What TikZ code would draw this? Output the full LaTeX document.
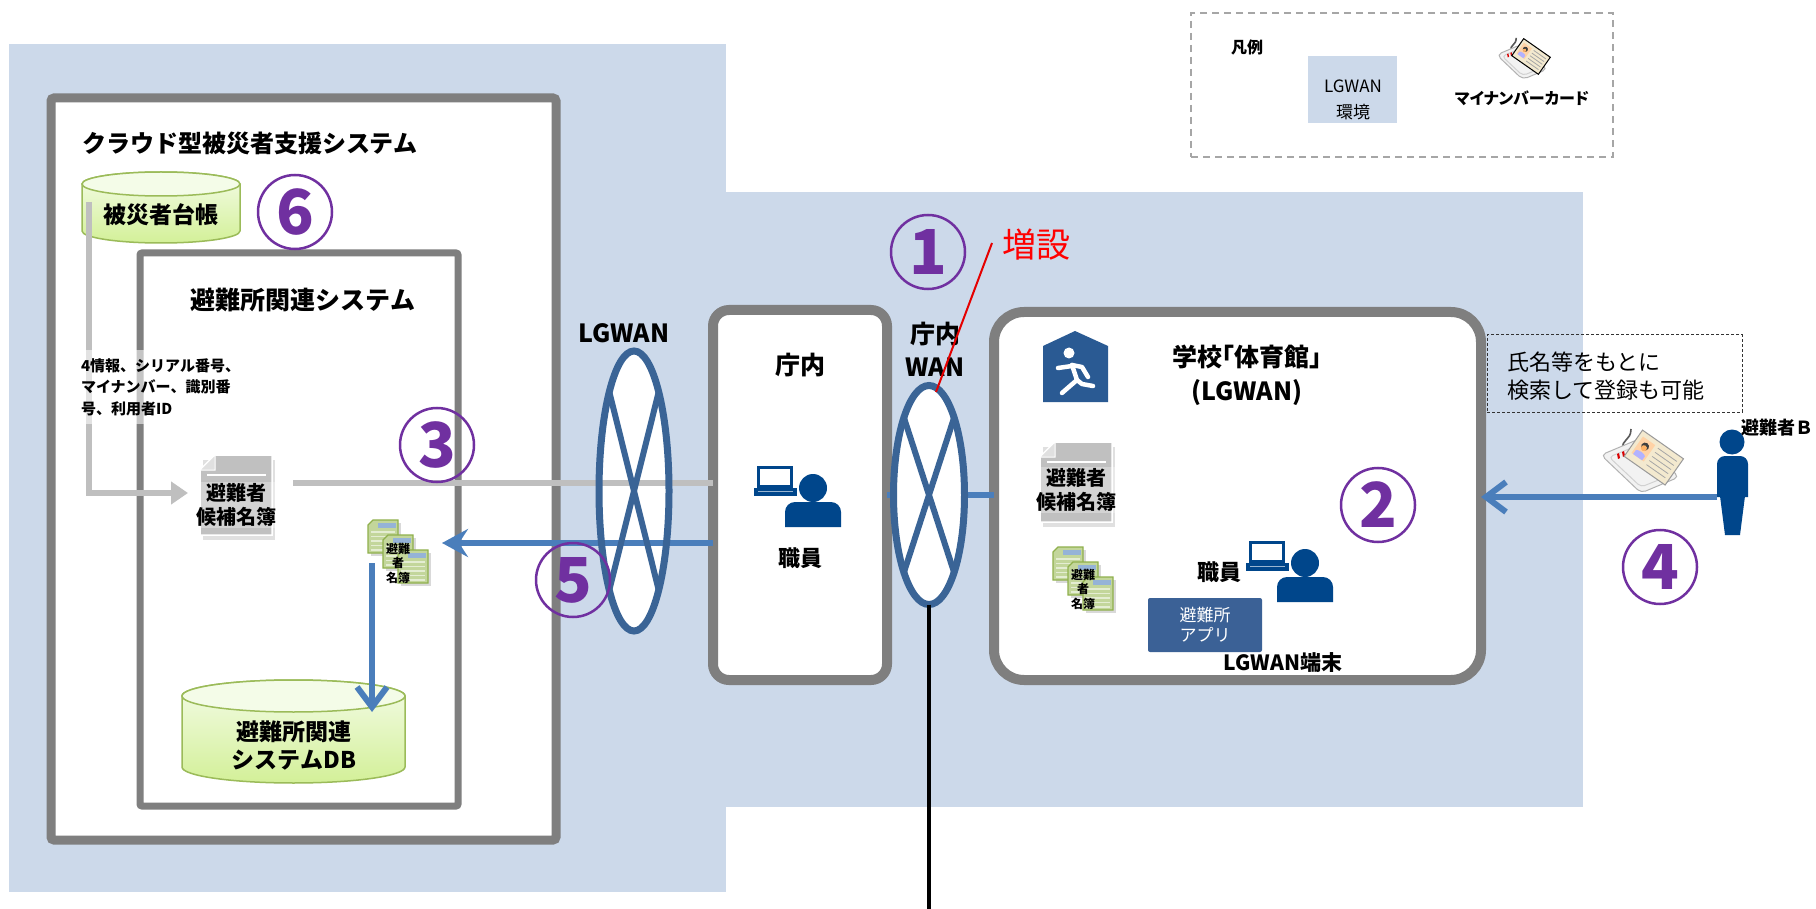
\documentclass[tikz,border=0pt]{standalone}
\usepackage{fontspec}
\setmainfont{Noto Sans CJK JP}
\usetikzlibrary{calc,arrows.meta,shapes.geometric}

\definecolor{lgwanbg}{HTML}{CCD9EA}
\definecolor{boxgray}{HTML}{7F7F7F}
\definecolor{numc}{HTML}{7030A0}
\definecolor{flowblue}{HTML}{4A7EBB}
\definecolor{netblue}{HTML}{3A6496}
\definecolor{iconblue}{HTML}{00468B}
\definecolor{linegray}{HTML}{BFBFBF}
\definecolor{dbedge}{HTML}{9BBB59}
\definecolor{dbtop}{HTML}{F4FCE8}
\definecolor{dbbot}{HTML}{D3F098}
\definecolor{appblue}{HTML}{3B6196}
\definecolor{housblue}{HTML}{2A5A93}
\definecolor{sheetgray}{HTML}{C0C0C0}
\definecolor{rostergreen}{HTML}{C3D69B}
\definecolor{rosteredge}{HTML}{8FB04C}
\definecolor{rosterblue}{HTML}{95B3D7}
\definecolor{cardbeige}{HTML}{F3E9CF}
\definecolor{addred}{HTML}{FF0000}

\newcommand\fsz[2]{\fontsize{#1}{#2}\selectfont}

% database cylinder: x left, x right, y of top ellipse centre, y of bottom ellipse centre, ellipse half height
\newcommand\dbcylinder[5]{%
  \pgfmathsetmacro\cylrx{(#2-#1)/2}%
  \pgfmathsetmacro\cylcx{(#2+#1)/2}%
  \path[top color=dbtop,bottom color=dbbot,draw=dbedge,line width=1.5pt]
    (#1,#3) -- (#1,#4) arc[start angle=180,end angle=0,x radius=\cylrx,y radius=#5]
    -- (#2,#3) arc[start angle=0,end angle=-180,x radius=\cylrx,y radius=#5] -- cycle;
  \path[fill=dbtop,draw=dbedge,line width=1.5pt] (\cylcx,#3) ellipse[x radius=\cylrx,y radius=#5];
}

% grey list sheet with a folded corner; top left corner
\newcommand\sheet[2]{%
  \begin{scope}[shift={(#1,#2)}]
    \fill[black,opacity=.12] (3,5) -- (75,5) -- (75,85) -- (3,85) -- cycle;
    \path[fill=sheetgray,draw=white,line width=1.5pt] (15,0) -- (72,0) -- (72,80) -- (0,80) -- (0,15) -- cycle;
    \path[fill=black!12,draw=white,line width=1pt] (0,15) -- (15,15) -- (15,0) -- cycle;
    \draw[white,line width=1.5pt] (7,20) -- (66,20);
  \end{scope}}

% one green roster page; top left corner
\newcommand\rosterpage[2]{%
  \begin{scope}[shift={(#1,#2)}]
    \fill[black,opacity=.15] (3,3) rectangle (33,36);
    \path[fill=rostergreen,draw=rosteredge,line width=1.2pt] (5,0) -- (30,0) -- (30,33) -- (0,33) -- (0,5) -- cycle;
    \fill[rosterblue] (10,2.5) rectangle (28,8);
    \foreach \yy in {12,16.5,21,25.5,30} \draw[white!55!rostergreen,line width=1.2pt] (3,\yy) -- (27,\yy);
  \end{scope}}
\newcommand\rosterstack[2]{%
  \rosterpage{#1}{#2}\rosterpage{#1+15}{#2+15}\rosterpage{#1+30}{#2+30}}

% laptop user; centre of the head
\newcommand\staffer[2]{%
  \begin{scope}[shift={(#1,#2)}]
    \draw[iconblue,line width=3pt,fill=white] (-54.5,-20.5) rectangle (-21.5,-1.5);
    \fill[iconblue] (-59,0) rectangle (-16,8);
    \draw[white!60!iconblue,line width=1pt] (-55,3.5) -- (-20,3.5);
    \fill[iconblue] (0,0) circle (14);
    \fill[iconblue] (-28,39) [rounded corners=10pt] -- (-28,14) -- (28,14) [sharp corners] -- (28,39) -- cycle;
  \end{scope}}

% card reader with a card lying on it; centre, scale, card outline
\newcommand\cardreader[4]{%
  \begin{scope}[shift={(#1,#2)},scale=#3]
    \draw[black!65,line width=1.6pt] (-20,-14) .. controls (-22,-24) and (-12,-22) .. (-12,-34);
    \path[fill=black!5,draw=black!30,line width=1pt,rounded corners=5pt]
      (-42,-8) -- (-4,-24) -- (36,14) -- (-2,30) -- cycle;
    \path[draw=black!18,line width=1pt,rounded corners=4pt]
      (-34,-6) -- (-4,-18) -- (28,12) -- (-2,24) -- cycle;
    \fill[red!85!black] (-26,-9) -- (-24,-10) -- (-23,-5) -- (-25,-4) -- cycle;
    \fill[red!85!black] (-21,-11) -- (-19,-12) -- (-18,-7) -- (-20,-6) -- cycle;
    \fill[green!60!black!80] (-16,-8) -- (-4,-16) -- (-4,-6) -- cycle;
    \begin{scope}[rotate around={-35:(10,-6)}]
      \path[fill=cardbeige,draw=#4,line width=1pt] (-14,-22) rectangle (36,10);
      \fill[orange!35] (-10,-17) rectangle (5,3);
      \fill[black!75] (-2.5,-10) circle (4);
      \fill[orange!60!white] (-2.5,-8) circle (3);
      \fill[blue!30!white] (-8,3) -- (-8,-2) .. controls (-6,-4) and (1,-4) .. (3,-2) -- (3,3) -- cycle;
      \foreach \yy in {-16,-11,-6,-1,4} \draw[black!35,line width=.8pt] (9,\yy) -- (32,\yy);
    \end{scope}
  \end{scope}}

\begin{document}
\begin{tikzpicture}[x=1pt,y=-1pt,
  every node/.style={inner sep=0pt,outer sep=0pt},
  jp/.style 2 args={font=\bfseries\fsz{#1}{#2}},
  jr/.style 2 args={font=\fsz{#1}{#2}},
  numring/.style={circle,draw=numc,line width=2.5pt,minimum size=74pt,text=numc,font=\bfseries\fsz{62}{62}},
  framebox/.style={draw=boxgray,fill=white},
  netring/.style={draw=netblue,line width=7pt},
  grayflow/.style={draw=linegray,line width=6pt},
  blueflow/.style={draw=flowblue,line width=6pt},
  barb/.style={-{Straight Barb[length=20pt,width=30pt]}},
]
\useasboundingbox (0,0) rectangle (1816,909);
\fill[white] (0,0) rectangle (1816,909);

% LGWAN areas
\fill[lgwanbg] (9,44) rectangle (726,892);
\fill[lgwanbg] (726,192) rectangle (1583,807);

% legend
\node[draw=black!35,dash pattern=on 7pt off 5pt,line width=1.5pt,minimum width=422pt,minimum height=144pt] (legend) at (1402,85) {};
\node[jp={16}{19}] (legtitle) at (1247,47) {凡例};
\node[fill=lgwanbg,minimum width=89pt,minimum height=67pt] (legarea) at (1352.5,89.5) {};
\node[jr={17}{26},align=center] (legareatext) at (1353,100) {LGWAN\\環境};
\cardreader{1524}{60}{0.65}{black}
\node[jp={16}{19}] (legcard) at (1522,98) {\addfontfeatures{RawFeature=+palt}マイナンバーカード};

% cloud system
\node[framebox,line width=9pt,rounded corners=3pt,minimum width=505pt,minimum height=742pt] (cloud) at (303.5,469) {};
\node[jp={24}{28},anchor=west] (cloudtitle) at (82,143) {クラウド型被災者支援システム};
\dbcylinder{82}{240}{184}{231}{12}
\node[jp={23}{28}] (ledger) at (161,215) {被災者台帳};

% shelter system
\node[framebox,line width=7pt,rounded corners=2pt,minimum width=318pt,minimum height=553pt] (shelter) at (299,529.5) {};
\node[jp={25}{30}] (sheltertitle) at (303,300) {避難所関連システム};
\sheet{200}{455}
\node[jp={20}{24},align=center,fill=white,fill opacity=.3,text opacity=1,inner sep=1pt] (candL) at (236,505) {避難者\\候補名簿};
\rosterstack{368}{520}
\node[jp={12}{14.5},align=center] (rosterL) at (398,563) {避難\\者\\名簿};
\dbcylinder{182}{405}{696}{767}{16}
\node[jp={23}{28},align=center] (shelterdb) at (294,746) {避難所関連\\システムDB};

% LGWAN ring (filled first, outline drawn over the flows)
\node[ellipse,fill=white,minimum width=70pt,minimum height=280pt] (lg) at (634,491) {};
\node[jp={25}{30}] (lglabel) at (624,333) {LGWAN};

% city hall
\node[framebox,line width=10pt,rounded corners=16pt,minimum width=174pt,minimum height=370pt] (chonai) at (800,495) {};
\node[jp={25}{30}] (chonaititle) at (800,365) {庁内};
\staffer{813}{488}
\node[jp={22}{26}] (chonaistaff) at (800,558) {職員};

% school gymnasium with the evacuation sign
\node[framebox,line width=10pt,rounded corners=30pt,minimum width=487pt,minimum height=368pt] (school) at (1237.5,496) {};
\fill[housblue] (1043,402) -- (1043,346) -- (1075,331) -- (1108,346) -- (1108,402) -- cycle;
\begin{scope}[line width=4.5pt,line cap=round,line join=round,draw=white]
  \fill[white] (1069,353) circle (5.5);
  \draw (1058,368) -- (1072,366);
  \draw (1072,365) -- (1082,367) -- (1088,377);
  \draw (1072,365) -- (1077,380);
  \draw (1077,380) -- (1070,386) -- (1062,393);
  \draw (1077,380) -- (1082,384) -- (1093,386);
\end{scope}
\node[jp={25}{34},align=center] (schooltitle) at (1247,375) {\addfontfeatures{RawFeature=+palt}学校「体育館」\\(LGWAN)};
\sheet{1040}{442}
\node[jp={20}{24},align=center,fill=white,fill opacity=.3,text opacity=1,inner sep=1pt] (candS) at (1076,490) {避難者\\候補名簿};
\rosterstack{1053}{547}
\node[jp={12}{14.5},align=center] (rosterS) at (1083,589) {避難\\者\\名簿};
\node[jp={22}{26}] (schoolstaff) at (1219,572) {職員};
\staffer{1305}{563}
\node[fill=appblue,rounded corners=2pt,minimum width=114pt,minimum height=54pt,text=white,align=center,jr={17}{20}] (app) at (1205,625) {避難所\\アプリ};
\node[jp={21}{25}] (terminal) at (1283,663) {LGWAN端末};

% note and evacuee
\node[draw=black!80,dash pattern=on 3pt off 2pt,line width=1pt,minimum width=255pt,minimum height=77pt] (note) at (1614.5,373.5) {};
\node[jr={22}{28},align=left,anchor=west] (notetext) at (1507,376) {氏名等をもとに\\検索して登録も可能};
\fill[iconblue] (1732,442) circle (12.5);
\fill[iconblue] (1717,497) [rounded corners=8pt] -- (1717,456) -- (1748,456) [sharp corners] -- (1748,497) -- cycle;
\fill[iconblue] (1720,496) -- (1745,496) -- (1740,535) -- (1725,535) -- cycle;
\node[jp={18}{21},anchor=west] (evacuee) at (1741,428) {避難者Ｂ};

% flows
\coordinate (ledgerout) at (89,202);
\coordinate (candLin) at (188,493);
\draw[grayflow,-{Triangle[length=17pt,width=22pt]}] (ledgerout) |- (candLin);
\coordinate (candLout) at (293,483);
\draw[grayflow] (candLout) -- (candLout -| chonai.west);
\coordinate (rosterLin) at (442,543);
\draw[blueflow,-{Stealth[length=26pt,width=28pt,inset=9pt]}] (rosterLin -| chonai.west) -- (rosterLin);
\coordinate (rosterLout) at (372,563);
\coordinate (shelterdbin) at (372,712);
\draw[blueflow,barb] (rosterLout) -- (shelterdbin);
\coordinate (evacueehand) at (1717,497);
\draw[blueflow,barb] (evacueehand) -- (evacueehand -| school.east);
\cardreader{1643}{463}{1}{black!40}

% LGWAN ring outline
\draw[netring] (lg.center) ellipse[x radius=35,y radius=140];
\draw[netblue,line width=6pt] ($(lg.center)+(-24.7,-99)$) -- ($(lg.center)+(24.7,99)$);
\draw[netblue,line width=6pt] ($(lg.center)+(24.7,-99)$) -- ($(lg.center)+(-24.7,99)$);

% in-house WAN
\draw[blueflow] (chonai.east) -- (chonai.east -| school.west);
\node[ellipse,fill=white,draw=netblue,line width=7pt,minimum width=71pt,minimum height=219pt] (wan) at (929,495) {};
\draw[netblue,line width=6pt] ($(wan.center)+(-25.1,-77.4)$) -- ($(wan.center)+(25.1,77.4)$);
\draw[netblue,line width=6pt] ($(wan.center)+(25.1,-77.4)$) -- ($(wan.center)+(-25.1,77.4)$);
\coordinate (wanout) at (929,909);
\draw[black,line width=4pt] (wan.south) -- (wanout);
\node[jp={25}{33},align=center] (wanlabel) at (935,349) {庁内\\WAN};
\coordinate (addnote) at (992,243);
\draw[addred!90!black,line width=2pt] ($(wan.center)+(7,-103)$) -- (addnote);
\node[jr={34}{40},text=addred] (addtext) at (1036,245) {増設};

% step numbers
\node[numring] (n1) at (928,252) {1};
\node[numring] (n2) at (1378,505) {2};
\node[numring] (n3) at (437,445) {3};
\node[numring] (n4) at (1660,567) {4};
\node[numring] (n5) at (573,580) {5};
\node[numring] (n6) at (295,212) {6};

% data items carried from the ledger
\node[jp={15}{21.5},align=left,anchor=west,fill=white,fill opacity=.55,text opacity=1,inner xsep=3pt,inner ysep=8pt] (fourinfo) at (78,387) {4情報、シリアル番号、\\マイナンバー、識別番\\号、利用者ID};
\end{tikzpicture}
\end{document}
